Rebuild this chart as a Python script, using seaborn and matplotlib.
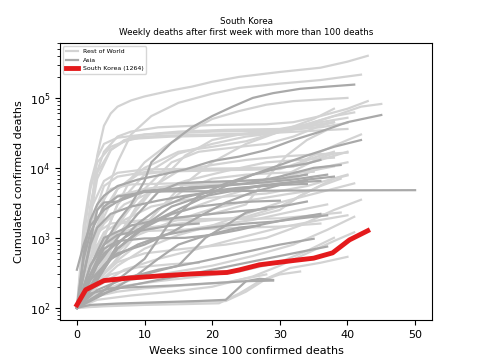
import pandas as pd
import matplotlib
matplotlib.use("Agg")
import matplotlib.pyplot as plt
import seaborn as sns
from matplotlib.lines import Line2D

# --- data: (week, cumulated deaths) key points ---
KOREA_WEEKS = [0, 1.3, 4, 7.5, 12.3, 17.2, 22.2, 24, 27, 32, 35, 37.8, 40.3, 43]
KOREA_DEATHS = [110, 181, 245, 265, 286, 306, 320, 348, 412, 474, 512, 610, 935, 1264]

REST_LINES = [
    [(0, 100), (1, 300), (2, 2000), (3, 15000), (4, 40000), (5, 60000), (6, 75000), (8, 92000), (10, 105000), (14, 128000), (17, 145000), (20, 170000), (24, 200000), (30, 235000), (36, 270000), (40, 330000), (43, 400000)],
    [(0, 100), (2, 500), (4, 3500), (6, 12000), (8, 30000), (11, 55000), (15, 85000), (20, 115000), (24, 139000), (30, 160000), (36, 180000), (42, 215000)],
    [(0, 100), (1, 500), (2, 2500), (3, 9000), (4, 17000), (6, 28000), (8, 33000), (12, 38000), (20, 41000), (28, 42000), (32, 45000), (36, 55000), (40, 70000), (43, 90000)],
    [(0, 100), (1, 600), (2, 3000), (3, 8500), (5, 18000), (7, 25000), (10, 30000), (15, 33000), (22, 35000), (30, 36000), (34, 42000), (38, 55000), (42, 75000), (45, 82000)],
    [(0, 100), (1, 400), (2, 2000), (3, 7000), (5, 18000), (7, 24000), (10, 28000), (16, 29500), (26, 31000), (31, 34000), (34, 42000), (38, 55000), (41, 62000)],
    [(0, 100), (1, 1000), (2, 5000), (3, 12000), (5, 20000), (8, 26000), (14, 28000), (22, 29000), (28, 31000), (32, 36000), (36, 45000), (40, 52000)],
    [(0, 100), (2, 300), (4, 1000), (6, 3000), (8, 7000), (10, 12000), (13, 20000), (17, 35000), (20, 50000), (24, 65000), (28, 80000), (32, 90000), (36, 95000), (40, 100000)],
    [(0, 100), (2, 1500), (4, 5500), (6, 7500), (10, 8700), (20, 9200), (30, 9600), (33, 12000), (36, 17000), (40, 25000), (42, 30000)],
    [(0, 100), (1, 700), (2, 2500), (4, 6500), (6, 8500), (10, 9500), (25, 9900), (32, 10500), (35, 14000), (38, 17000)],
    [(0, 100), (2, 500), (4, 2500), (6, 5000), (9, 8000), (14, 9000), (25, 9500), (32, 10500), (36, 13000), (40, 17000)],
    [(0, 100), (1, 500), (3, 2500), (5, 5000), (8, 5800), (20, 6200), (30, 6800), (33, 8500), (38, 10500)],
    [(0, 100), (3, 600), (6, 3000), (10, 8000), (15, 16000), (20, 22000), (25, 28000), (30, 32000), (35, 34000), (40, 36000)],
    [(0, 100), (4, 500), (8, 2000), (12, 6000), (16, 15000), (20, 25000), (24, 30000), (28, 34000), (33, 38000), (38, 45000)],
    [(0, 100), (5, 500), (10, 1500), (15, 5000), (20, 12000), (25, 22000), (30, 33000), (35, 40000), (38, 45000)],
    [(0, 100), (3, 400), (6, 1500), (10, 5000), (14, 12000), (18, 17000), (24, 20000), (28, 22000), (32, 28000), (36, 40000), (38, 45000)],
    [(0, 100), (2, 500), (4, 2000), (6, 5000), (10, 10000), (15, 17000), (20, 20000), (25, 24000), (30, 33000), (35, 50000), (38, 70000)],
    [(0, 100), (4, 800), (8, 1500), (12, 1800), (20, 2200), (25, 3000), (28, 7000), (31, 15000), (34, 25000), (37, 35000)],
    [(0, 100), (2, 900), (4, 2500), (6, 4000), (10, 5000), (15, 5700), (25, 5900), (32, 7000), (36, 10000), (40, 12000)],
    [(0, 100), (1, 400), (3, 1200), (5, 1600), (10, 1800), (25, 1900), (30, 2500), (33, 4000), (36, 5500), (39, 7000)],
    [(0, 100), (2, 500), (4, 1200), (6, 1600), (10, 1750), (30, 1900), (35, 2100), (39, 2300)],
    [(0, 100), (2, 500), (4, 1000), (8, 1300), (15, 1600), (25, 2000), (30, 2800), (35, 5000), (38, 7000), (40, 7800)],
    [(0, 100), (3, 300), (6, 1000), (9, 3000), (12, 6000), (15, 9000), (20, 11000), (25, 13000), (30, 14500), (35, 15500), (40, 16500)],
    [(0, 100), (2, 700), (4, 1600), (7, 3000), (11, 4500), (16, 6500), (22, 9000), (28, 12000), (33, 13000), (38, 14000)],
    [(0, 100), (3, 500), (6, 1100), (10, 1600), (16, 2500), (22, 4000), (28, 6000), (32, 9000), (36, 14000), (38, 16000)],
    [(0, 100), (4, 300), (8, 900), (12, 2500), (16, 5000), (20, 7000), (25, 8000), (30, 8500), (35, 8800)],
    [(0, 100), (5, 110), (10, 115), (15, 120), (22, 125), (25, 170), (28, 260), (31.5, 370), (36, 440), (40, 535)],
    [(0, 100), (4, 105), (10, 110), (16, 113), (21, 116), (24, 160), (27, 240), (30, 300), (33, 330)],
    [(0, 100), (3, 130), (8, 150), (14, 170), (20, 200), (26, 280), (30, 400), (34, 600), (38, 900), (41, 1200)],
    [(0, 100), (2, 150), (6, 200), (12, 240), (18, 280), (24, 330), (30, 450), (34, 650), (38, 1000)],
    [(0, 100), (3, 250), (6, 450), (10, 600), (16, 700), (22, 800), (28, 1000), (33, 1500), (38, 2500), (42, 3500)],
    [(0, 100), (2, 200), (5, 400), (9, 800), (14, 1200), (20, 1500), (26, 1800), (32, 2400), (37, 3000)],
    [(0, 100), (4, 180), (8, 250), (14, 320), (20, 400), (26, 550), (32, 800), (37, 1300), (41, 2000)],
    [(0, 100), (1, 300), (3, 800), (6, 1100), (10, 1250), (20, 1350), (30, 1450), (36, 1600)],
    [(0, 100), (2, 140), (6, 170), (10, 190), (16, 210), (22, 230), (28, 300)],
    [(0, 100), (1, 1500), (2, 6000), (3, 14000), (4, 22000), (6, 27000), (10, 30000), (20, 33000), (30, 34000), (36, 38000), (40, 44000)],
    [(0, 100), (2, 250), (5, 600), (9, 1100), (14, 1700), (20, 2600), (26, 3500), (31, 4200), (35, 4800)],
    [(0, 100), (3, 200), (7, 350), (12, 500), (18, 700), (24, 1000), (30, 1400), (36, 1800), (40, 2100)],
    [(0, 100), (2, 200), (5, 300), (9, 380), (14, 420), (18, 440)],
    [(0, 100), (2, 350), (4, 900), (7, 1800), (11, 2800), (16, 3500), (22, 3900), (28, 4300), (34, 5500), (40, 8000)],
    [(0, 100), (3, 220), (6, 400), (10, 700), (15, 1100), (20, 1500), (25, 2200), (30, 3200), (36, 4500), (41, 6000)],
]

ASIA_LINES = [
    [(0, 100), (2, 300), (4, 800), (6, 1700), (8, 3000), (10, 6500), (11, 12000), (14, 23000), (17, 38000), (20, 55000), (23, 75000), (26, 100000), (29, 117000), (33, 135000), (37, 145000), (41, 155000)],
    [(0, 100), (1, 600), (2, 1800), (3, 3000), (4, 4000), (6, 5500), (9, 6800), (12, 7800), (16, 9500), (20, 12500), (24, 14500), (28, 18000), (32, 25000), (36, 33000), (40, 45000), (45, 57000)],
    [(0, 100), (2, 300), (4, 600), (7, 1000), (10, 1500), (14, 2300), (18, 3500), (22, 5500), (26, 8000), (30, 11000), (34, 15000), (38, 20000), (42, 25000)],
    [(0, 100), (1, 500), (2, 1200), (4, 2800), (6, 3900), (10, 4500), (15, 4800), (20, 5300), (25, 6000), (30, 7500), (35, 10000), (39, 11000)],
    [(0, 100), (2, 200), (4, 400), (6, 600), (10, 800), (14, 1200), (18, 2000), (22, 3200), (26, 4500), (30, 5700), (34, 6800), (38, 7500)],
    [(0, 100), (3, 150), (6, 250), (10, 500), (14, 1800), (18, 4000), (22, 6000), (26, 8000), (30, 10000), (34, 11500), (36, 13000)],
    [(0, 100), (3, 400), (6, 1000), (9, 2200), (12, 4500), (15, 6000), (19, 6300), (24, 6500), (30, 7000), (34, 8000)],
    [(0, 100), (3, 250), (6, 700), (10, 1500), (14, 2800), (18, 3800), (22, 4500), (26, 5300), (30, 6000), (34, 6600)],
    [(0, 100), (3, 250), (6, 800), (9, 1600), (12, 2600), (16, 3800), (20, 4700), (24, 5200), (30, 5700), (34, 5900)],
    [(0, 100), (1, 300), (2, 900), (3, 2500), (4, 3200), (6, 3300), (10, 4600), (20, 4640), (30, 4740), (40, 4780), (50, 4800)],
    [(0, 100), (2, 300), (4, 700), (6, 900), (10, 980), (16, 1000), (20, 1100), (24, 1300), (28, 1600), (32, 1900), (36, 2200)],
    [(0, 100), (2, 180), (4, 250), (10, 300), (15, 400), (19, 1000), (22, 1500), (25, 2300), (28, 2700), (31, 2900), (34, 3300)],
    [(0, 100), (2, 400), (4, 1000), (8, 1500), (12, 1800), (16, 2000), (20, 2200), (24, 2400), (28, 2600)],
    [(0, 100), (3, 140), (6, 200), (9, 300), (12, 500), (15, 800), (18, 1000), (21, 1200), (24, 1400), (27, 1500)],
    [(0, 100), (2, 110), (6, 115), (12, 120), (18, 125), (22, 130), (25, 240), (27, 260), (29, 250)],
    [(0, 100), (2, 160), (5, 190), (10, 200), (15, 210), (20, 225), (25, 240), (29, 245)],
    [(0, 100), (2, 400), (4, 800), (6, 1100), (10, 1300), (14, 1500), (18, 1600)],
    [(0, 100), (3, 300), (6, 700), (10, 1400), (14, 2200), (18, 2800), (22, 3100), (26, 3300), (30, 3400)],
    [(0, 100), (2, 250), (5, 500), (9, 800), (13, 1100), (17, 1300), (21, 1450), (25, 1600), (29, 1700), (33, 1900), (37, 2100)],
    [(0, 100), (1, 300), (2, 800), (3, 1400), (5, 2200), (8, 2800), (12, 3400), (16, 4000), (20, 4500), (24, 5100), (28, 5700), (32, 6200), (36, 6500)],
    [(0, 350), (1, 800), (2, 1500), (4, 2500), (7, 3800), (10, 4700), (16, 5200), (20, 5500), (26, 6000), (32, 6800), (37, 8000)],
    [(0, 100), (3, 150), (7, 200), (12, 250), (18, 320), (24, 420), (30, 550), (37, 750)],
    [(0, 100), (3, 180), (7, 260), (12, 350), (18, 450), (24, 600), (30, 800), (35, 970)],
]

REST_COLOR = "#d3d3d3"
ASIA_COLOR = "#a9a9a9"
KOREA_COLOR = "#e41a1c"


def to_frame(lines):
    rows = []
    for i, pts in enumerate(lines):
        for w, d in pts:
            rows.append({"country": i, "week": w, "deaths": d})
    return pd.DataFrame(rows)


def main():
    plt.rcParams["font.size"] = 8

    df_rest = to_frame(REST_LINES)
    df_asia = to_frame(ASIA_LINES)
    df_korea = pd.DataFrame({"week": KOREA_WEEKS, "deaths": KOREA_DEATHS})

    fig, ax = plt.subplots(figsize=(4.8, 3.6), dpi=100)
    sns.lineplot(data=df_rest, x="week", y="deaths", units="country", estimator=None,
                 color=REST_COLOR, lw=1.6, ax=ax)
    sns.lineplot(data=df_asia, x="week", y="deaths", units="country", estimator=None,
                 color=ASIA_COLOR, lw=1.6, ax=ax)
    sns.lineplot(data=df_korea, x="week", y="deaths", color=KOREA_COLOR, lw=3.5, ax=ax)

    ax.set_yscale("log")
    ax.set_xlabel("Weeks since 100 confirmed deaths")
    ax.set_ylabel("Cumulated confirmed deaths")
    ax.set_title("South Korea\nWeekly deaths after first week with more than 100 deaths", fontsize=6.3)

    handles = [
        Line2D([], [], color=REST_COLOR, lw=1.6),
        Line2D([], [], color=ASIA_COLOR, lw=1.6),
        Line2D([], [], color=KOREA_COLOR, lw=3.5),
    ]
    ax.legend(handles, ["Rest of World", "Asia", "South Korea (1264)"], loc="upper left", fontsize=4.5)

    fig.savefig("out.png")


if __name__ == "__main__":
    main()
